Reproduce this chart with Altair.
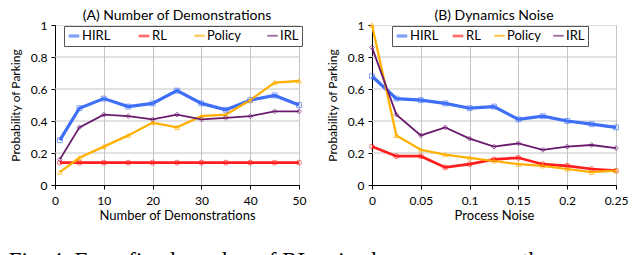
import altair as alt
import pandas as pd

series = ["HIRL", "RL", "Policy", "IRL"]
colors = ["#3e6ff6", "#ff1e1e", "#ffb000", "#6a1a6e"]
line_widths = [3.2, 1.8, 1.4, 1.5]
shapes = ["square", "circle", "triangle-up", "diamond"]

demo_x = [1, 5, 10, 15, 20, 25, 30, 35, 40, 45, 50]
demo_hirl = [0.28, 0.48, 0.54, 0.49, 0.51, 0.59, 0.51, 0.47, 0.53, 0.56, 0.50]
demo_rl = [0.14, 0.14, 0.14, 0.14, 0.14, 0.14, 0.14, 0.14, 0.14, 0.14, 0.14]
demo_policy = [0.08, 0.17, 0.24, 0.31, 0.39, 0.36, 0.43, 0.44, 0.53, 0.64, 0.65]
demo_irl = [0.16, 0.36, 0.44, 0.43, 0.41, 0.44, 0.41, 0.42, 0.43, 0.46, 0.46]

noise_x = [0, 0.025, 0.05, 0.075, 0.1, 0.125, 0.15, 0.175, 0.2, 0.225, 0.25]
noise_hirl = [0.68, 0.54, 0.53, 0.51, 0.48, 0.49, 0.41, 0.43, 0.40, 0.38, 0.36]
noise_rl = [0.24, 0.18, 0.18, 0.11, 0.13, 0.16, 0.17, 0.13, 0.12, 0.10, 0.09]
noise_policy = [1.00, 0.31, 0.22, 0.19, 0.17, 0.15, 0.13, 0.12, 0.10, 0.08, 0.09]
noise_irl = [0.86, 0.44, 0.31, 0.36, 0.29, 0.24, 0.26, 0.22, 0.24, 0.25, 0.23]

demo_ticks = [0, 10, 20, 30, 40, 50]
noise_ticks = [0, 0.05, 0.1, 0.15, 0.2, 0.25]
y_ticks = [0, 0.2, 0.4, 0.6, 0.8, 1]
y_grid = [0.2, 0.4, 0.6, 0.8]

caption = "Fig. 4: For a fixed number of RL episodes, we measure the success"


def long_df(xs, cols):
    rows = []
    for name, vals in zip(series, cols):
        for x, v in zip(xs, vals):
            rows.append({"x": x, "y": v, "series": name})
    return pd.DataFrame(rows)


demo_df = long_df(demo_x, [demo_hirl, demo_rl, demo_policy, demo_irl])
noise_df = long_df(noise_x, [noise_hirl, noise_rl, noise_policy, noise_irl])
grid_df = pd.DataFrame({"g": y_grid})

FONT = "Lato"
YTITLE = "Probability of Parking"


def panel(df, title, xtitle, xdomain, xticks, lx, colpad):
    xs = alt.Scale(domain=xdomain, nice=False, zero=False)
    ys = alt.Scale(domain=[0, 1], nice=False)
    xaxis = alt.Axis(values=xticks, format=".2~f", grid=True, gridColor="#c4c4c4",
                     domainColor="black", tickColor="black", tickSize=4,
                     labelFont=FONT, labelFontSize=12, labelColor="black",
                     titleFont=FONT, titleFontSize=13, titleFontWeight="normal",
                     titleColor="black", labelPadding=6, titlePadding=3,
                     labelFlush=False, labelOverlap=False)
    yaxis = alt.Axis(values=y_ticks, format=".2~f", grid=False,
                     domainColor="black", tickColor="black", tickSize=4,
                     labelFont=FONT, labelFontSize=12, labelColor="black",
                     titleFont=FONT, titleFontSize=12, titleFontWeight="normal",
                     titleColor="black", labelPadding=4, titlePadding=8,
                     labelOverlap=False)
    leg = alt.Legend(title=None, orient="none", legendX=lx, legendY=1,
                     direction="horizontal", strokeColor="#555", padding=3,
                     fillColor="white", symbolType="stroke", symbolSize=110,
                     labelFont=FONT, labelFontSize=13, labelColor="black",
                     columnPadding=colpad, labelOffset=1)
    grid = alt.Chart(grid_df).mark_rule(color="#c4c4c4", strokeWidth=1).encode(
        y=alt.Y("g:Q", scale=ys, axis=yaxis, title=YTITLE))
    lines = alt.Chart(df).mark_line().encode(
        x=alt.X("x:Q", scale=xs, axis=xaxis, title=xtitle),
        y=alt.Y("y:Q", scale=ys, axis=yaxis, title=YTITLE),
        color=alt.Color("series:N", scale=alt.Scale(domain=series, range=colors),
                        sort=series, legend=leg),
        strokeWidth=alt.StrokeWidth("series:N",
                                    scale=alt.Scale(domain=series, range=line_widths),
                                    sort=series, legend=leg),
        order=alt.Order("x:Q"),
    )
    pts = alt.Chart(df).mark_point(filled=False, size=24, strokeWidth=1, opacity=0.65).encode(
        x=alt.X("x:Q", scale=xs, axis=xaxis, title=xtitle),
        y=alt.Y("y:Q", scale=ys, axis=yaxis, title=YTITLE),
        color=alt.Color("series:N", scale=alt.Scale(domain=series, range=colors),
                        sort=series, legend=leg),
        shape=alt.Shape("series:N", scale=alt.Scale(domain=series, range=shapes),
                        legend=None),
    )
    return alt.layer(grid, lines, pts).properties(
        width=244, height=160,
        title=alt.TitleParams(title, font=FONT, fontSize=14, fontWeight="normal",
                              color="black", offset=-4))


left = panel(demo_df, "(A) Number of Demonstrations", "Number of Demonstrations",
             [0, 50], demo_ticks, 9, 22)
right = panel(noise_df, "(B) Dynamics Noise", "Process Noise",
              [0, 0.25], noise_ticks, 20, 8)

chart = alt.hconcat(left, right, spacing=18).resolve_legend(
    color="independent", strokeWidth="independent"
).properties(
    title=alt.TitleParams(caption, orient="bottom", anchor="start",
                          font="Liberation Serif", fontSize=23,
                          fontWeight="normal", color="black", offset=27)
).configure_view(stroke=None).configure(padding=0)

chart.save("out.html", embed_options={"renderer": "svg", "actions": False})
